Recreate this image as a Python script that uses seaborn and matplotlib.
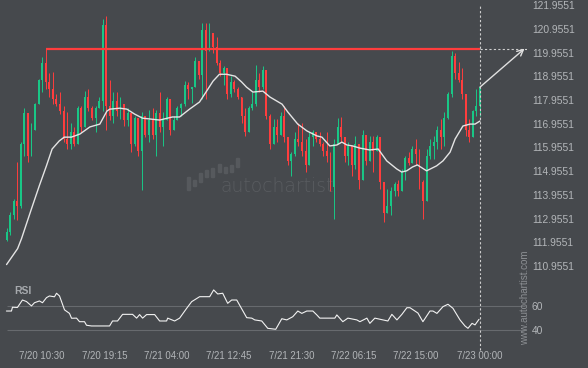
import numpy as np
import pandas as pd
import matplotlib
matplotlib.use("Agg")
import matplotlib.pyplot as plt
import matplotlib.transforms as mtransforms
from matplotlib.patches import Rectangle
import seaborn as sns

# === Candles: 30 min bars from 7/20 05:30 to 7/23 00:00 === #
first_open = 112.05
closes = [
    112.4, 113.1, 113.7, 113.5, 116.1, 117.4, 115.6, 116.7, 117.8, 118.8,
    119.5, 118.7, 118.4, 118.0, 117.8, 117.5, 116.3, 116.1, 116.6, 116.1,
    117.6, 116.8, 118.1, 117.6, 117.2, 117.6, 117.9, 121.1, 117.7, 117.3,
    117.9, 117.5, 117.8, 117.1, 117.4, 116.1, 117.2, 115.8, 117.3, 116.5,
    117.1, 116.5, 117.4, 116.8, 117.1, 118.0, 116.7, 117.1, 117.6, 117.8,
    118.6, 118.4, 118.5, 119.6, 119.0, 120.9, 120.0, 120.8, 120.2, 119.5,
    119.1, 119.3, 118.2, 118.7, 118.4, 118.1, 117.3, 116.6, 117.6, 117.8,
    118.8, 118.5, 119.2, 117.3, 116.1, 116.8, 116.5, 117.3, 116.4, 115.4,
    115.7, 116.3, 116.2, 115.8, 115.2, 116.4, 116.6, 116.3, 116.1, 115.8,
    115.6, 114.3, 116.1, 116.8, 116.4, 115.6, 116.0, 115.2, 116.1, 114.6,
    116.5, 115.4, 116.2, 115.8, 116.4, 114.5, 113.2, 113.5, 114.1, 114.4,
    114.1, 114.9, 115.5, 115.3, 115.9, 115.7, 114.5, 113.7, 115.6, 116.0,
    116.2, 116.7, 116.4, 117.2, 118.2, 119.8, 119.1, 118.8, 118.2, 116.7,
    116.4, 117.5, 117.7, 118.5,
]
highs = [
    112.55, 113.25, 113.8, 115.35, 116.2, 117.6, 117.4, 117.0, 117.85, 118.85,
    119.75, 120.12, 119.1, 119.15, 118.2, 118.3, 117.7, 117.45, 117.0, 116.8,
    117.7, 117.7, 118.35, 118.4, 117.7, 117.7, 118.1, 121.35, 121.5, 118.8,
    118.3, 118.3, 118.1, 117.8, 117.6, 117.4, 117.3, 117.2, 117.45, 117.3,
    117.55, 117.6, 117.55, 118.3, 117.45, 118.1, 118.0, 117.3, 117.7, 117.85,
    118.75, 118.7, 118.5, 119.75, 119.6, 121.2, 121.2, 121.2, 120.8, 120.6,
    119.65, 119.4, 119.3, 118.95, 118.8, 118.5, 118.1, 117.6, 117.7, 118.3,
    119.45, 119.1, 119.4, 119.2, 117.35, 117.15, 117.15, 117.45, 117.7, 116.4,
    115.75, 116.6, 117.0, 117.0, 116.3, 116.6, 116.7, 116.6, 116.6, 116.2,
    116.6, 115.75, 116.3, 117.2, 117.25, 116.4, 116.2, 116.0, 116.45, 116.1,
    116.7, 116.5, 116.45, 116.45, 116.5, 116.4, 114.5, 114.2, 114.3, 114.5,
    114.6, 115.05, 115.6, 115.75, 116.0, 116.3, 115.9, 114.6, 115.9, 116.3,
    116.45, 116.85, 117.15, 117.45, 118.3, 120.0, 119.95, 119.55, 119.3, 118.2,
    117.15, 117.55, 118.4, 118.5,
]
lows = [
    112.0, 112.25, 112.95, 112.9, 113.4, 115.6, 115.35, 115.6, 116.7, 117.8,
    118.3, 118.4, 118.1, 117.8, 117.7, 117.35, 116.2, 115.9, 115.9, 116.0,
    116.1, 116.6, 116.8, 117.5, 117.1, 116.6, 117.6, 117.5, 116.7, 117.1,
    117.0, 117.3, 117.15, 116.85, 116.85, 115.75, 116.0, 115.6, 114.15, 116.4,
    116.2, 116.3, 115.6, 116.6, 116.0, 117.1, 116.5, 116.7, 117.1, 117.3,
    117.7, 118.0, 117.85, 118.5, 118.85, 118.0, 118.0, 120.0, 119.95, 119.45,
    118.95, 118.6, 118.0, 118.1, 118.3, 118.0, 117.0, 116.45, 116.6, 117.55,
    117.7, 118.3, 118.4, 117.15, 115.9, 116.1, 116.2, 116.5, 116.2, 115.2,
    114.75, 115.6, 116.0, 115.6, 114.9, 115.2, 116.0, 116.2, 116.0, 115.6,
    115.35, 114.1, 112.95, 116.1, 116.2, 115.35, 115.2, 114.75, 115.05, 114.2,
    114.6, 115.2, 115.4, 114.9, 115.8, 114.2, 112.8, 113.2, 113.1, 113.9,
    113.9, 114.1, 114.6, 115.2, 115.3, 115.2, 114.2, 112.95, 113.7, 115.45,
    115.45, 115.9, 115.9, 116.0, 117.15, 118.1, 118.85, 118.7, 118.0, 116.45,
    116.2, 116.4, 117.3, 117.3,
]

# === Moving average (hours after 7/20 00:00) === #
ma_hours = [5.5, 7.05, 7.6, 9.0, 10.1, 11.1, 11.9, 12.9, 13.6, 14.6,
            15.8, 17.2, 18.6, 19.6, 20.0, 21.4, 22.4, 23.5, 24.6, 27.0,
            28.8, 29.8, 31.2, 32.6, 33.6, 34.5, 35.4, 36.4, 37.6, 38.5,
            39.2, 40.1, 41.5, 42.5, 44.2, 45.0, 46.4, 47.7, 49.1, 49.8,
            50.9, 51.9, 52.6, 53.3, 54.1, 55.1, 56.5, 57.7, 58.9, 60.3,
            61.0, 61.7, 62.5, 63.2, 64.5, 65.9, 66.8, 67.8, 68.5, 69.6,
            70.6, 71.3, 72.0]
ma_values = [111.02, 111.69, 112.11, 113.37, 114.34, 115.18, 115.89, 116.23, 116.39, 116.39,
             116.52, 116.82, 116.94, 117.49, 117.57, 117.61, 117.57, 117.36, 117.19, 117.11,
             117.24, 117.24, 117.57, 117.87, 118.33, 118.75, 119.04, 119.04, 118.96, 118.72,
             118.50, 118.29, 118.33, 118.08, 117.78, 117.45, 116.94, 116.65, 116.44, 116.39,
             116.02, 116.06, 116.18, 116.06, 116.02, 115.93, 115.85, 115.89, 115.39, 115.05,
             114.92, 114.97, 115.13, 115.22, 114.97, 115.18, 115.39, 115.76, 116.31, 116.86,
             116.94, 116.94, 117.07]

# === RSI (hours after 7/20 00:00) === #
rsi_hours = [5.48, 6.19, 6.33, 7.03, 7.73, 8.30, 9.00, 9.42, 10.12, 10.55,
             11.11, 11.53, 12.23, 12.52, 12.94, 13.64, 14.34, 14.63, 15.33, 15.75,
             16.45, 16.73, 17.44, 19.97, 20.39, 21.09, 21.80, 23.20, 23.77, 24.19,
             24.61, 25.17, 26.30, 27.00, 27.98, 28.13, 29.11, 29.81, 30.80, 31.50,
             32.62, 34.03, 34.59, 35.16, 35.86, 36.56, 37.12, 37.83, 39.23, 39.94,
             40.36, 41.34, 42.19, 43.31, 44.16, 44.86, 45.70, 46.41, 46.97, 47.67,
             48.52, 49.08, 49.50, 51.61, 51.89, 52.73, 53.44, 54.70, 55.13, 56.11,
             56.53, 57.23, 59.06, 59.62, 60.33, 61.03, 61.73, 62.16, 62.86, 63.28,
             63.98, 64.97, 65.39, 65.95, 66.80, 67.50, 68.20, 69.19, 69.89, 70.31,
             70.88, 71.30, 71.86]
rsi_values = [56, 56, 59.2, 59, 65.3, 64, 60.3, 63, 64.5, 63,
              67.3, 68.7, 68, 71, 68.7, 57, 54, 49.9, 50, 47,
              47, 44, 43.4, 43.4, 47.6, 47.6, 53.2, 53.2, 50, 53,
              50, 53, 53, 47.6, 47.6, 50, 47.6, 50, 58.3, 63.9,
              68.1, 68.1, 73.8, 70.4, 71, 62.5, 65.3, 65.3, 50.4, 50,
              48.5, 47.6, 41.4, 40.6, 49.5, 48.5, 51.2, 56, 54, 56,
              56, 52.7, 50, 50, 52.7, 47, 50, 48.5, 47, 50,
              45.6, 50, 47.6, 53.2, 48.5, 53.2, 58.8, 58.8, 56, 54.3,
              47, 56, 56, 54, 59.7, 61.7, 58.3, 48.5, 43.4, 41.4,
              45.6, 44.3, 49]

# === Labels and pattern === #
price_ticks = [121.9551, 120.9551, 119.9551, 118.9551, 117.9551, 116.9551,
               115.9551, 114.9551, 113.9551, 112.9551, 111.9551, 110.9551]
rsi_levels = [40, 60]
time_labels = ["7/20 10:30", "7/20 19:15", "7/21 04:00", "7/21 12:45",
               "7/21 21:30", "7/22 06:15", "7/22 15:00", "7/23 00:00"]
resistance = 120.12
resistance_start = "2020-07-20 11:00"
target_time = "2020-07-23 06:15"

BG = "#46494d"
GREEN = "#19c786"
RED = "#ff3d3d"
TEXT = "#b3b6b9"

t0 = pd.Timestamp("2020-07-20")


def to_hours(ts):
    return (pd.to_datetime(ts) - t0) / pd.Timedelta(hours=1)


times = pd.date_range("2020-07-20 05:30", periods=len(closes), freq="30min")
df = pd.DataFrame({
    "hour": np.asarray(to_hours(times), dtype=float),
    "open": [first_open] + closes[:-1],
    "high": highs,
    "low": lows,
    "close": closes,
})
tick_hours = np.asarray(to_hours(pd.to_datetime(["2020/" + s for s in time_labels],
                                                format="%Y/%m/%d %H:%M")), dtype=float)
last_h = df["hour"].iloc[-1]
target_h = to_hours(target_time)

# === Figure === #
sns.set_theme(style="dark", rc={"axes.facecolor": BG, "figure.facecolor": BG})
plt.rcParams["font.family"] = ["Liberation Sans", "DejaVu Sans"]

W, H = 588, 368
fig = plt.figure(figsize=(W / 100, H / 100), dpi=100)
ax = fig.add_axes([0, 93 / H, 527 / W, 275 / H])
ax_rsi = fig.add_axes([0, 20 / H, 527 / W, 73 / H], sharex=ax)
px = mtransforms.Affine2D().scale(1 / W, -1 / H).translate(0, 1) + fig.transFigure

for a in (ax, ax_rsi):
    a.set_facecolor(BG)
    a.grid(False)
    for s in a.spines.values():
        s.set_visible(False)

# watermark behind the candles
logo_bars = [(187, 177, 190), (193, 180, 186), (199, 173, 182), (205, 170, 177),
             (211, 168, 177), (218, 164, 172), (224, 167, 173), (230, 165, 172),
             (236, 158, 167)]
for x, top, bottom in logo_bars:
    ax.add_patch(Rectangle((x, top), 3, bottom - top, transform=px,
                           color="#56595d", zorder=0))
ax.text(220, 186, "autochartist", transform=px, ha="left", va="center",
        fontsize=13.5, color="#595c60", family="DejaVu Sans", weight="light", zorder=0)

# === Candles === #
colors = np.where(df["close"] >= df["open"], GREEN, RED)
ax.vlines(df["hour"], df["low"], df["high"], colors=colors, linewidth=0.7, zorder=2)
body_low = df[["open", "close"]].min(axis=1)
body_h = (df["close"] - df["open"]).abs().clip(lower=0.04)
ax.bar(df["hour"], body_h, bottom=body_low, width=0.27, color=colors,
       linewidth=0, zorder=2)

# === Moving average === #
sns.lineplot(x=ma_hours, y=ma_values, ax=ax, color="#e4e4e4", linewidth=1.0,
             legend=False, zorder=3)

# === Resistance and projection === #
ax.hlines(resistance, to_hours(resistance_start), last_h, color=RED, linewidth=1.6, zorder=4)
ax.hlines(resistance, last_h, target_h + 0.5, color="#cfcfcf", linewidth=0.8,
          linestyles=(0, (2, 2)), zorder=4)
ax.annotate("", xy=(target_h, resistance), xytext=(last_h, df["close"].iloc[-1]),
            arrowprops=dict(arrowstyle="->", color="#e0e0e0", lw=1.0,
                            shrinkA=0, shrinkB=0, mutation_scale=11), zorder=5)

ax.set_xlim(4.58, 78.6)
ax.set_ylim(110.58, 122.17)
ax.vlines(last_h, 110.58, price_ticks[0], colors="#cfcfcf", linewidth=0.8,
          linestyles=(0, (2, 2)), zorder=4)

# === RSI panel === #
ax_rsi.hlines(rsi_levels, df["hour"].iloc[0], target_h, colors="#676a6e", linewidth=0.8)
sns.lineplot(x=rsi_hours, y=rsi_values, ax=ax_rsi, color="#f2f2f2", linewidth=0.8,
             legend=False)
ax_rsi.axvline(last_h, ymin=-0.03, ymax=1, color="#cfcfcf", linewidth=0.8,
               linestyle=(0, (2, 2)), clip_on=False)
ax_rsi.set_ylim(24.8, 86.4)

# === Ticks === #
ax.yaxis.tick_right()
ax.set_yticks(price_ticks, [f"{p:.4f}" for p in price_ticks])
ax.tick_params(axis="y", length=0, pad=3.6, labelsize=7.4, labelcolor=TEXT)
ax.tick_params(axis="x", length=0, labelbottom=False)
ax_rsi.yaxis.tick_right()
ax_rsi.set_yticks(rsi_levels, [str(v) for v in rsi_levels])
ax_rsi.tick_params(axis="y", length=0, pad=3.6, labelsize=7.4, labelcolor=TEXT)
ax_rsi.set_xticks(tick_hours, time_labels)
ax_rsi.tick_params(axis="x", length=0, pad=2.5, labelsize=6.9, labelcolor=TEXT)
for a in (ax, ax_rsi):
    a.set_xlabel("")
    a.set_ylabel("")

fig.text(14, 291, "RSI", transform=px, ha="left", va="center", fontsize=7.5,
         fontweight="bold", color="#a6a9ad")
fig.text(525, 298, "www.autochartist.com", transform=px, ha="center", va="center",
         rotation=90, fontsize=7, color="#8d9094")

fig.savefig("out.png", dpi=100, facecolor=BG)
